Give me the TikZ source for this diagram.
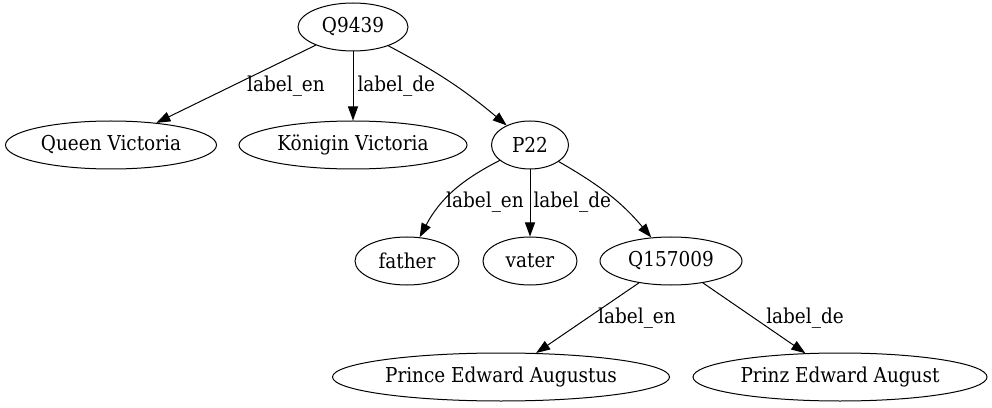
\documentclass[tikz,border=0pt]{standalone}
\usepackage{fontspec}
\setmainfont{DejaVu Serif}[FakeStretch=0.9]
\usetikzlibrary{shapes.geometric,arrows.meta}

\begin{document}
\begin{tikzpicture}
        [x=1pt,y=1pt,line width=1pt,>={Triangle[length=14pt,width=10pt]},
         item/.style={draw,ellipse,inner sep=0,minimum height=48pt,font=\fontsize{20.5}{24}\selectfont},
         lbl/.style={inner sep=0,font=\fontsize{20.5}{24}\selectfont}]

        \useasboundingbox (0,0) rectangle (992,407);

        \node[item,minimum width=110pt] (q9439) at (353,380) {Q9439};
        \node[item,minimum width=211pt] (queen) at (111,262) {Queen Victoria};
        \node[item,minimum width=228pt] (koenigin) at (353,262) {Königin Victoria};
        \node[item,minimum width=77pt] (p22) at (530,262) {P22};
        \node[item,minimum width=104pt] (father) at (407,146) {father};
        \node[item,minimum width=94pt] (vater) at (530,146) {vater};
        \node[item,minimum width=142pt] (q157009) at (671,146) {Q157009};
        \node[item,minimum width=337pt] (prince) at (501,30) {Prince Edward Augustus};
        \node[item,minimum width=294pt] (prinz) at (840,30) {Prinz Edward August};

        \node[lbl] (en1) at (286,321) {label\_en};
        \node[lbl,anchor=west] (de1) at (357,321) {label\_de};
        \node[lbl] (en2) at (485,205) {label\_en};
        \node[lbl,anchor=west] (de2) at (533,205) {label\_de};
        \node[lbl] (en3) at (637,89) {label\_en};
        \node[lbl] (de3) at (805,89) {label\_de};

        \draw[->] (q9439) -- (queen);
        \draw[->] (q9439) -- (koenigin);
        \draw[->] (q9439) to[out=-28,in=140] (p22);
        \draw[->] (p22) to[out=207,in=62] (father);
        \draw[->] (p22) -- (vater);
        \draw[->] (p22) to[out=-30,in=130] (q157009);
        \draw[->] (q157009) -- (prince);
        \draw[->] (q157009) -- (prinz);
      \end{tikzpicture}
\end{document}
